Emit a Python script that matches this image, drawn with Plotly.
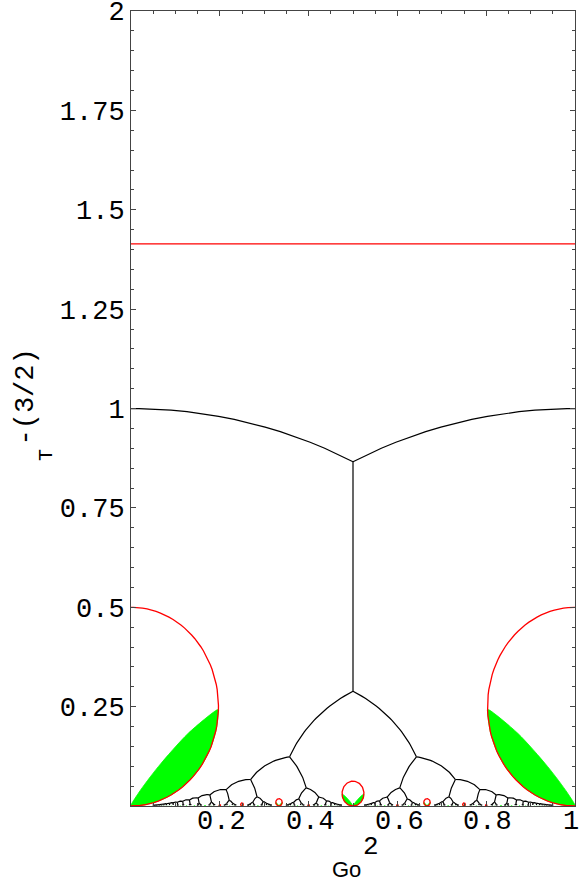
import numpy as np
import plotly.graph_objects as go

# ---------------- data ----------------
X_TICKS = [0.2, 0.4, 0.6, 0.8, 1.0]
X_TICK_LABELS = ["0.2", "0.4", "0.6", "0.8", "1"]
Y_TICKS = [0.25, 0.5, 0.75, 1.0, 1.25, 1.5, 1.75, 2.0]
Y_TICK_LABELS = ["0.25", "0.5", "0.75", "1", "1.25", "1.5", "1.75", "2"]

RED_LINE_Y = 1.414            # horizontal red line
CUSP_HEIGHT_Q1 = 0.5          # height of the red loop at the cusps 0 and 1
CUSP_HEIGHT_POWER = 3         # loop height ~ CUSP_HEIGHT_Q1 / q^3
LOOP_WIDTH_RATIO = 0.394      # semi-width of loop / loop height
# green lobe upper edge, normalised by loop height (x, y)
LOBE_UPPER_X = [0.0, 0.033, 0.123, 0.258, 0.388]
LOBE_UPPER_Y = [0.0, 0.064, 0.198, 0.366, 0.484]
TREE_MAX_DENOM = 20           # depth of the black tree
RED_MAX_DENOM = 5
GREEN_MAX_DENOM = 20

# ---------------- geometry helpers ----------------
def farey(n):
    fr = set()
    for q in range(1, n + 1):
        for p in range(0, q + 1):
            if np.gcd(p, q) == 1:
                fr.add((p, q))
    return sorted(fr, key=lambda t: t[0] / t[1])

def mobius_arc(a, b, c, d, npts=30):
    th = np.linspace(np.pi / 3, 2 * np.pi / 3, npts)
    z = np.exp(1j * th)
    w = (c * z + a) / (d * z + b)
    return w.real, w.imag

tree_x, tree_y = [], []
def add_edge(a, b, c, d):
    xs, ys = mobius_arc(a, b, c, d)
    tree_x.extend(xs.tolist() + [None])
    tree_y.extend(ys.tolist() + [None])

add_edge(0, 1, 1, 0)
add_edge(1, 1, 1, 0)
stack = [(0, 1, 1, 1)]
while stack:
    a, b, c, d = stack.pop()
    add_edge(a, b, c, d)
    if b + d <= TREE_MAX_DENOM:
        stack.append((a, b, a + c, b + d))
        stack.append((a + c, b + d, c, d))

# red loops
red_x, red_y = [], []
t = np.linspace(0, 2 * np.pi, 120)
for p, q in farey(RED_MAX_DENOM):
    h = CUSP_HEIGHT_Q1 / q ** CUSP_HEIGHT_POWER
    cx = p / q
    red_x.extend((cx + LOOP_WIDTH_RATIO * h * np.sin(t)).tolist() + [None])
    red_y.extend((h / 2 - h / 2 * np.cos(t)).tolist() + [None])

# green lobes
ux = np.array(LOBE_UPPER_X)
uy = np.array(LOBE_UPPER_Y)
t_end = np.arccos(1 - 2 * uy[-1])
tl = np.linspace(t_end, 0, 40)
lx = LOOP_WIDTH_RATIO * np.sin(tl)
ly = 0.5 - 0.5 * np.cos(tl)
lobe_x = np.concatenate([ux, lx])
lobe_y = np.concatenate([uy, ly])
gr_x, gr_y = [], []
for p, q in farey(GREEN_MAX_DENOM):
    h = CUSP_HEIGHT_Q1 / q ** CUSP_HEIGHT_POWER
    cx = p / q
    for sgn in (1, -1):
        gr_x.extend((cx + sgn * h * lobe_x).tolist() + [None])
        gr_y.extend((h * lobe_y).tolist() + [None])

fig = go.Figure()
fig.add_trace(go.Scatter(x=gr_x, y=gr_y, mode="lines", fill="toself",
                         fillcolor="#00ff00",
                         line=dict(color="#00ff00", width=0.8, shape="spline", smoothing=0.8),
                         hoverinfo="skip"))
fig.add_trace(go.Scatter(x=tree_x, y=tree_y, mode="lines",
                         line=dict(color="black", width=1.2), hoverinfo="skip"))
fig.add_trace(go.Scatter(x=red_x, y=red_y, mode="lines",
                         line=dict(color="#ff0000", width=1.3), hoverinfo="skip"))
fig.add_trace(go.Scatter(x=[0, 1], y=[RED_LINE_Y, RED_LINE_Y], mode="lines",
                         line=dict(color="#ff0000", width=1.3), hoverinfo="skip"))

axis_common = dict(showgrid=False, zeroline=False, showline=True, linecolor="#444",
                   linewidth=1, mirror="ticks", ticks="inside", ticklen=5,
                   tickcolor="#444", tickwidth=1, automargin=False,
                   ticklabeloverflow="allow",
                   tickfont=dict(family="Liberation Mono", size=27, color="black"))
# x tick labels are placed as annotations (the last one sits at the window edge)
fig.update_xaxes(range=[0, 1], tickmode="array", tickvals=X_TICKS, showticklabels=False,
                 minor=dict(dtick=0.05, tick0=0, ticks="inside", ticklen=3, tickcolor="#444"),
                 **axis_common)
fig.update_yaxes(range=[0, 2], tickmode="array", tickvals=Y_TICKS, ticktext=Y_TICK_LABELS,
                 minor=dict(dtick=0.05, tick0=0, ticks="inside", ticklen=3, tickcolor="#444"),
                 **axis_common)

W, H = 579, 886
L, R, T, B = 131, 4, 11, 80
pw, ph = W - L - R, H - T - B
def px(x): return (x - L) / pw
def py(y): return (H - B - y) / ph

annotations = []
for xv, lab in zip(X_TICKS, X_TICK_LABELS):
    xc = min(xv + 0.004, px(571))
    annotations.append(dict(text=lab, x=xc, y=py(822),
                            font=dict(family="Liberation Mono", size=27)))
annotations += [
    dict(text="Go", x=px(346), y=py(869), font=dict(family="Liberation Sans", size=22)),
    dict(text="2", x=px(371), y=py(847), font=dict(family="Liberation Mono", size=26)),
    dict(text="T", x=px(46.5), y=py(455.5), textangle=-90,
         font=dict(family="Liberation Mono", size=20)),
    dict(text="-(3/2)", x=px(25), y=py(397.5), textangle=-90,
         font=dict(family="Liberation Mono", size=27)),
]
for a in annotations:
    a.update(xref="paper", yref="paper", showarrow=False, xanchor="center", yanchor="middle")
    a["font"]["color"] = "black"

fig.update_layout(width=W, height=H, margin=dict(l=L, r=R, t=T, b=B),
                  plot_bgcolor="white", paper_bgcolor="white", showlegend=False,
                  annotations=annotations)
fig.write_html("out.html", config={"displayModeBar": False},
               post_script="document.body.style.margin='0';document.body.style.overflow='hidden';")
